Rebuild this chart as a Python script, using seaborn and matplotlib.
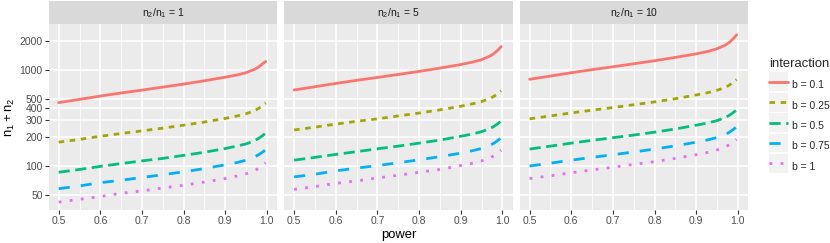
import pandas as pd
import matplotlib
matplotlib.use("Agg")
import matplotlib.pyplot as plt
import matplotlib.ticker as mticker
from matplotlib.patches import Rectangle
from matplotlib.transforms import IdentityTransform
import seaborn as sns

# x grid
power = [0.5, 0.55, 0.6, 0.65, 0.7, 0.75, 0.8, 0.85, 0.9, 0.93, 0.95, 0.97, 0.98, 0.99, 0.997]

ratios = ["1", "5", "10"]
interactions = ["b = 0.1", "b = 0.25", "b = 0.5", "b = 0.75", "b = 1"]

# n1 + n2 for n2/n1 = 1
r1_b010 = [457, 494, 535, 576, 617, 663, 713, 772, 841, 891, 937, 1015, 1074, 1165, 1225]
r1_b025 = [177, 189, 204, 218, 232, 248, 266, 287, 313, 333, 350, 377, 398, 428, 453]
r1_b050 = [86, 92, 99, 106, 113, 120, 129, 139, 152, 162, 170, 183, 194, 208, 220]
r1_b075 = [58, 62, 67, 71, 76, 81, 87, 94, 103, 109, 115, 124, 131, 140, 148]
r1_b100 = [42, 45, 48, 52, 55, 59, 63, 68, 74, 79, 83, 89, 95, 102, 108]

# n2/n1 = 5
r5_b010 = [619, 669, 724, 780, 836, 898, 966, 1046, 1139, 1213, 1281, 1393, 1486, 1622, 1752]
r5_b025 = [237, 254, 273, 292, 310, 332, 356, 384, 419, 446, 469, 505, 533, 574, 607]
r5_b050 = [115, 123, 132, 141, 151, 161, 173, 186, 204, 216, 228, 245, 259, 278, 294]
r5_b075 = [77, 82, 89, 95, 101, 108, 116, 125, 136, 145, 152, 164, 173, 186, 197]
r5_b100 = [57, 61, 66, 70, 75, 80, 86, 92, 101, 107, 113, 121, 128, 138, 146]

# n2/n1 = 10
r10_b010 = [800, 864, 936, 1008, 1080, 1160, 1248, 1352, 1472, 1568, 1664, 1816, 1944, 2144, 2320]
r10_b025 = [310, 332, 357, 381, 406, 434, 465, 502, 549, 583, 614, 660, 698, 750, 794]
r10_b050 = [150, 161, 173, 185, 197, 210, 225, 243, 266, 282, 297, 320, 338, 363, 384]
r10_b075 = [100, 107, 115, 123, 131, 140, 150, 162, 177, 188, 198, 213, 225, 242, 256]
r10_b100 = [74, 79, 85, 91, 97, 104, 111, 120, 131, 139, 147, 158, 167, 179, 189]

yticks = [50, 100, 200, 300, 400, 500, 1000, 2000]
xticks = [0.5, 0.6, 0.7, 0.8, 0.9, 1.0]

series = {
    "1": [r1_b010, r1_b025, r1_b050, r1_b075, r1_b100],
    "5": [r5_b010, r5_b025, r5_b050, r5_b075, r5_b100],
    "10": [r10_b010, r10_b025, r10_b050, r10_b075, r10_b100],
}

rows = []
for ratio in ratios:
    for b, vals in zip(interactions, series[ratio]):
        for p, n in zip(power, vals):
            rows.append({"power": p, "n": n, "interaction": b, "ratio": ratio})
df = pd.DataFrame(rows)

palette = dict(zip(interactions, ["#F8766D", "#A3A500", "#00BF7D", "#00B0F6", "#E76BF3"]))
dashes = dict(zip(interactions, ["", (2, 2), (4, 2), (4, 4), (1, 3)]))

sns.set_theme(style="darkgrid", rc={"axes.facecolor": "#EBEBEB", "grid.color": "white",
                                    "axes.edgecolor": "#EBEBEB"})
plt.rcParams["font.family"] = ["Liberation Sans", "DejaVu Sans"]
plt.rcParams["mathtext.default"] = "regular"

g = sns.relplot(data=df, x="power", y="n", hue="interaction", style="interaction",
                col="ratio", col_order=ratios, hue_order=interactions, style_order=interactions,
                kind="line", palette=palette, dashes=dashes, linewidth=2.0, errorbar=None,
                height=2.0, aspect=1.2)
fig = g.figure
fig.set_size_inches(8.3, 2.43)
fig.set_dpi(100)
fig.subplots_adjust(left=48.7 / 830, right=748.3 / 830, bottom=33 / 243, top=218.7 / 243,
                    wspace=6.8 / 228.6)

g.set_titles("")
g.set_axis_labels("", "")
g.set(yscale="log", xlim=(0.476, 1.025), ylim=(34.8, 2990))

strip_h = 23.3 / 185.7
for i, (ax, ratio) in enumerate(zip(g.axes.flat, ratios)):
    ax.yaxis.set_major_locator(mticker.FixedLocator(yticks))
    ax.yaxis.set_major_formatter(mticker.FixedFormatter([str(v) for v in yticks]))
    ax.yaxis.set_minor_locator(mticker.NullLocator())
    ax.xaxis.set_major_locator(mticker.FixedLocator(xticks))
    ax.xaxis.set_major_formatter(mticker.FormatStrFormatter("%.1f"))
    ax.xaxis.set_minor_locator(mticker.FixedLocator([0.55, 0.65, 0.75, 0.85, 0.95]))
    ax.grid(which="major", color="white", linewidth=1.1)
    ax.grid(which="minor", axis="x", color="white", linewidth=0.55)
    ax.tick_params(which="minor", length=0)
    ax.tick_params(axis="both", which="major", bottom=True, left=(i == 0), length=2.9,
                   width=0.8, color="#333333", labelcolor="#4D4D4D", labelsize=7.5, pad=1.5)
    for s in ax.spines.values():
        s.set_visible(False)
    ax.add_patch(Rectangle((0, 1), 1, strip_h, transform=ax.transAxes, clip_on=False,
                           facecolor="#D9D9D9", edgecolor="none"))
    ax.text(0.5, 1 + strip_h / 2, "$n_2/n_1$ = " + ratio, transform=ax.transAxes,
            ha="center", va="center", fontsize=7.5, color="#1A1A1A")

fig.text(398.5 / 830, 1 - 235 / 243, "power", ha="center", va="center", fontsize=9.4,
         color="black")
fig.text(10 / 830, 1 - 117 / 243, "$n_1 + n_2$", ha="center", va="center", rotation=90,
         fontsize=9.4, color="black")

sns.move_legend(g, loc="upper left", bbox_to_anchor=(769 / 830, 1 - 58 / 243), frameon=False,
                title="interaction", title_fontsize=9.4, fontsize=7.5, handlelength=1.83,
                handleheight=2.44, handletextpad=0.36, labelspacing=0.13, borderpad=0,
                borderaxespad=0, alignment="left")
leg = g._legend
# a bit more room between the legend title and the keys
leg._legend_box.sep = 3.9

# grey key backgrounds like ggplot
fig.canvas.draw()
renderer = fig.canvas.get_renderer()
for h in leg.legend_handles:
    bb = h.get_window_extent(renderer)
    yc = (bb.y0 + bb.y1) / 2
    fig.add_artist(Rectangle((bb.x0, yc - 9.3), bb.x1 - bb.x0, 18.6,
                             transform=IdentityTransform(), facecolor="#F2F2F2",
                             edgecolor="none", zorder=1))

fig.savefig("out.png", dpi=100)
